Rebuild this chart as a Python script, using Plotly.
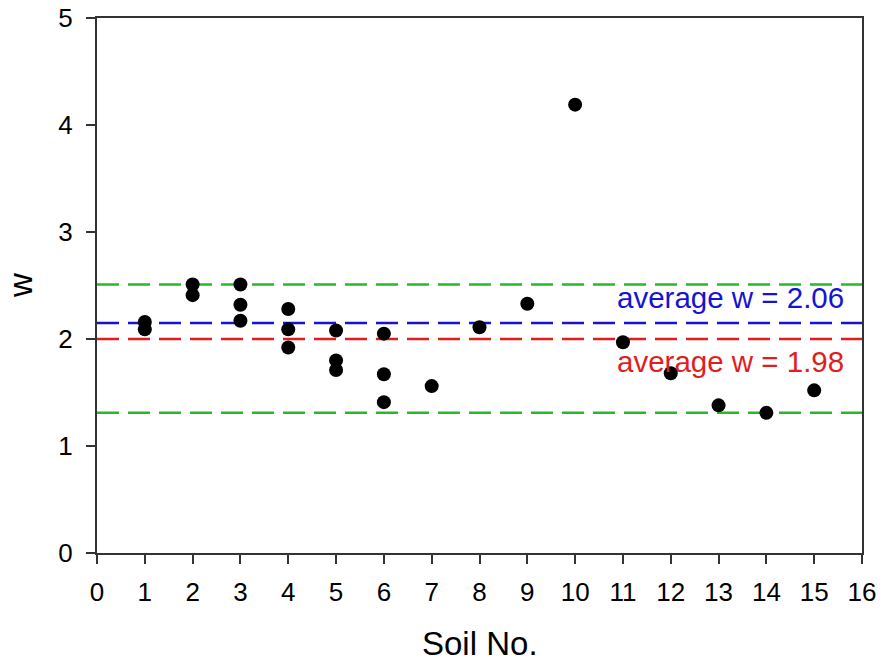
import plotly.graph_objects as go

soil_no = [1, 1, 2, 2, 3, 3, 3, 4, 4, 4, 5, 5, 5, 6, 6, 6, 7, 8, 9, 10, 11, 12, 13, 14, 15]
w_vals = [2.16, 2.09, 2.51, 2.41, 2.51, 2.32, 2.17, 2.28, 2.09, 1.92, 2.08, 1.80, 1.71,
          2.05, 1.67, 1.41, 1.56, 2.11, 2.33, 4.19, 1.97, 1.68, 1.38, 1.31, 1.52]

x_range = [0, 16]
upper_bound = 2.51
lower_bound = 1.31
blue_avg = 2.15
red_avg = 2.0
blue_label = "average w = 2.06"
red_label = "average w = 1.98"
blue_label_pos = (15.66, 2.39)
red_label_pos = (15.66, 1.79)

x_ticks = list(range(0, 17))
y_ticks = [0, 1, 2, 3, 4, 5]

FONT = "Arial, Liberation Sans, sans-serif"

fig = go.Figure()

dash = "22px,9px"
for yv, col in [(upper_bound, "rgb(40,185,40)"), (lower_bound, "rgb(40,185,40)"),
                (blue_avg, "rgb(20,20,210)"), (red_avg, "rgb(225,30,30)")]:
    fig.add_trace(go.Scatter(x=x_range, y=[yv, yv], mode="lines",
                             line=dict(color=col, width=2.5, dash=dash),
                             showlegend=False, hoverinfo="skip"))

fig.add_trace(go.Scatter(x=soil_no, y=w_vals, mode="markers",
                         marker=dict(color="black", size=14),
                         showlegend=False))

fig.add_annotation(x=blue_label_pos[0], y=blue_label_pos[1], text=blue_label,
                   showarrow=False, xanchor="right", yanchor="middle",
                   font=dict(family=FONT, size=29.5, color="rgb(20,20,210)"))
fig.add_annotation(x=red_label_pos[0], y=red_label_pos[1], text=red_label,
                   showarrow=False, xanchor="right", yanchor="middle",
                   font=dict(family=FONT, size=29.5, color="rgb(225,30,30)"))

# axis titles
fig.add_annotation(xref="paper", yref="paper", x=0.5, y=-0.17, text="Soil No.",
                   showarrow=False, xanchor="center", yanchor="middle",
                   font=dict(family=FONT, size=33, color="black"))
fig.add_annotation(xref="paper", yref="paper", x=-0.1, y=0.5, text="w",
                   showarrow=False, xanchor="center", yanchor="middle", textangle=-90,
                   font=dict(family=FONT, size=33, color="black"))

axis_common = dict(showgrid=False, zeroline=False, showline=True, linecolor="#333",
                   linewidth=2, ticks="outside", ticklen=9, tickwidth=2, tickcolor="#333",
                   tickfont=dict(family=FONT, size=26, color="black"),
                   mirror=True, automargin=False)

fig.update_layout(
    width=885, height=665,
    paper_bgcolor="white", plot_bgcolor="white",
    margin=dict(l=97, r=23, t=18, b=112),
    xaxis=dict(range=x_range, tickvals=x_ticks, ticklabelstandoff=6, **axis_common),
    yaxis=dict(range=[0, 5], tickvals=y_ticks, ticklabelstandoff=8, **axis_common),
    font=dict(family=FONT),
)

fig.write_html("out.html")
